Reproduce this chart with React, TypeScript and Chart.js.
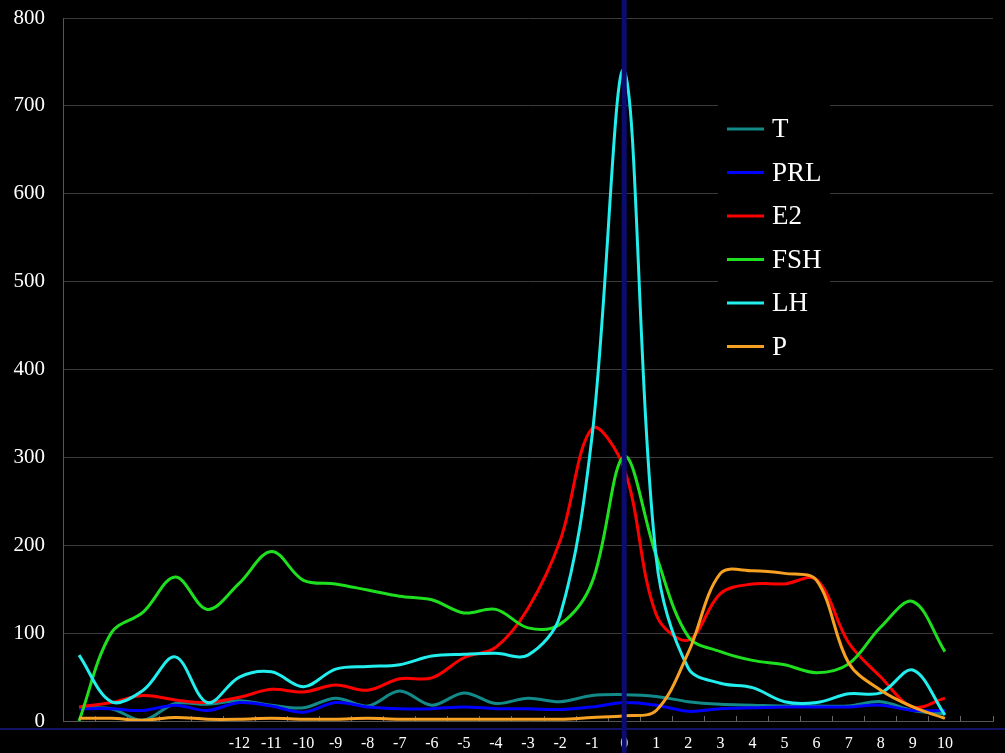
import { useEffect, useRef } from 'react';
import { Chart, registerables } from 'chart.js';

Chart.register(...registerables);

// days relative to the LH peak (day 0); 11 only pads the axis
const days = [-17, -16, -15, -14, -13, -12, -11, -10, -9, -8, -7, -6, -5, -4, -3, -2, -1, 0, 1, 2, 3, 4, 5, 6, 7, 8, 9, 10, 11];
const xTickLabels = ['-12', '-11', '-10', '-9', '-8', '-7', '-6', '-5', '-4', '-3', '-2', '-1', '0', '1', '2', '3', '4', '5', '6', '7', '8', '9', '10'];

const T = [15, 14, 1, 20, 19, 23, 18, 15, 26, 17, 34, 18, 32, 20, 26, 22, 29, 30, 28, 22, 19, 18, 17, 17, 17, 22, 12, 8];
const PRL = [14, 14, 12, 18, 12, 21, 17, 10, 21, 16, 14, 14, 16, 14, 14, 13, 16, 21, 18, 11, 14, 15, 16, 16, 16, 18, 12, 12];
const E2 = [16, 21, 29, 24, 21, 27, 36, 33, 41, 35, 48, 49, 72, 84, 128, 205, 333, 287, 121, 92, 145, 156, 156, 161, 89, 50, 16, 26];
const FSH = [0, 100, 124, 164, 127, 157, 193, 160, 156, 149, 142, 138, 123, 127, 106, 110, 158, 301, 188, 96, 79, 69, 64, 55, 65, 107, 136, 79];
const LH = [75, 22, 35, 73, 21, 50, 56, 39, 59, 62, 64, 74, 76, 77, 75, 120, 325, 740, 185, 60, 43, 38, 22, 21, 31, 32, 58, 7];
const P = [3, 3, 1, 4, 2, 2, 3, 2, 2, 3, 2, 2, 2, 2, 2, 2, 4, 6, 12, 78, 168, 171, 168, 160, 66, 35, 16, 3];

const seriesNames = ['T', 'PRL', 'E2', 'FSH', 'LH', 'P'];
const seriesData = [T, PRL, E2, FSH, LH, P];
const seriesColors = ['#138a8a', '#0000ff', '#ff0000', '#1fe01f', '#22eeee', '#f7a122'];

const FONT = '"Liberation Serif", "DejaVu Serif", serif';

// navy marker at day 0 and the line under the axis, drawn over everything
const markersPlugin = {
  id: 'markers',
  afterDraw(chart: any) {
    const { ctx, chartArea, scales } = chart;
    const x0 = scales.x.getPixelForValue(days.indexOf(0));
    ctx.save();
    ctx.strokeStyle = '#1a1a86';
    ctx.lineWidth = 1.5;
    ctx.beginPath();
    ctx.moveTo(0, chartArea.bottom + 8);
    ctx.lineTo(chart.width, chartArea.bottom + 8);
    ctx.stroke();
    ctx.strokeStyle = '#0c0c70';
    ctx.lineWidth = 5;
    ctx.beginPath();
    ctx.moveTo(x0, 0);
    ctx.lineTo(x0, chart.height);
    ctx.stroke();
    ctx.restore();
  },
};

// legend box sitting inside the plot, top right
const legendPlugin = {
  id: 'innerLegend',
  afterDraw(chart: any) {
    const { ctx, chartArea } = chart;
    const left = chartArea.right - 275;
    const top = chartArea.top + 82;
    ctx.save();
    ctx.fillStyle = '#000';
    ctx.fillRect(left, top, 112, 258);
    ctx.font = '27px ' + FONT;
    ctx.textBaseline = 'middle';
    ctx.textAlign = 'left';
    seriesNames.forEach((name, i) => {
      const y = top + 29 + i * 43.5;
      ctx.strokeStyle = seriesColors[i];
      ctx.lineWidth = 3;
      ctx.beginPath();
      ctx.moveTo(left + 9, y);
      ctx.lineTo(left + 46, y);
      ctx.stroke();
      ctx.fillStyle = '#fff';
      ctx.fillText(name, left + 54, y + 1);
    });
    ctx.restore();
  },
};

export default function App() {
  const canvasRef = useRef<HTMLCanvasElement>(null);
  const chartRef = useRef<Chart | null>(null);

  useEffect(() => {
    document.body.style.margin = '0';
    document.body.style.background = '#000';
    if (!canvasRef.current) return;
    if (chartRef.current) chartRef.current.destroy();

    chartRef.current = new Chart(canvasRef.current, {
      type: 'line',
      data: {
        labels: days,
        datasets: seriesNames.map((name, i) => ({
          label: name,
          data: seriesData[i],
          borderColor: seriesColors[i],
          backgroundColor: seriesColors[i],
          borderWidth: 3,
          pointRadius: 0,
          tension: 0.35,
          fill: false,
          order: seriesNames.length - i,
        })),
      },
      options: {
        animation: false,
        responsive: true,
        maintainAspectRatio: false,
        layout: { autoPadding: false, padding: { top: 18, right: 12, left: 0, bottom: 0 } },
        plugins: {
          legend: { display: false },
          tooltip: { enabled: false },
        },
        scales: {
          x: {
            type: 'category',
            offset: true,
            afterFit: (scale: any) => {
              scale.height = 32;
              scale.paddingLeft = 0;
              scale.paddingRight = 0;
            },
            grid: {
              offset: true,
              drawOnChartArea: false,
              drawTicks: true,
              tickLength: -5,
              color: '#666',
            },
            border: { color: '#555' },
            ticks: {
              color: '#fff',
              font: { family: FONT, size: 16 },
              autoSkip: false,
              maxRotation: 0,
              padding: 18,
              callback: function (this: any, value: any) {
                const label = String(this.getLabelForValue(value));
                return xTickLabels.includes(label) ? label : '';
              },
            },
          },
          y: {
            min: 0,
            max: 800,
            afterFit: (scale: any) => {
              scale.width = 63;
              scale.paddingTop = 0;
              scale.paddingBottom = 0;
            },
            grid: { color: '#3a3a3a', drawTicks: false },
            border: { color: '#555' },
            ticks: {
              stepSize: 100,
              color: '#fff',
              font: { family: FONT, size: 21 },
              padding: 18,
            },
          },
        },
      },
      plugins: [legendPlugin, markersPlugin],
    });

    return () => {
      if (chartRef.current) {
        chartRef.current.destroy();
        chartRef.current = null;
      }
    };
  }, []);

  return (
    <div style={{ width: 1005, height: 753, background: '#000', position: 'relative' }}>
      <canvas ref={canvasRef} />
    </div>
  );
}
